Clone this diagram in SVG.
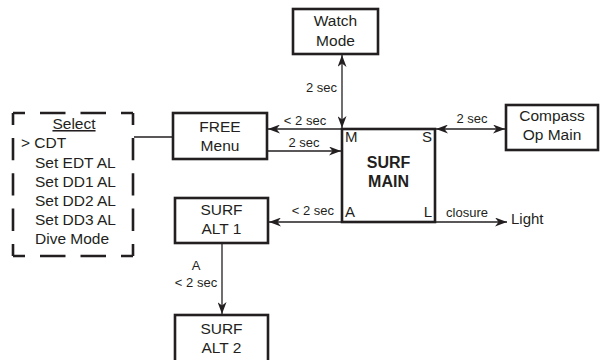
<svg xmlns="http://www.w3.org/2000/svg" width="600" height="360" viewBox="0 0 600 360">
<defs>
<marker id="ah" markerUnits="userSpaceOnUse" viewBox="0 0 12 9" markerWidth="12" markerHeight="9" refX="12" refY="4.5" orient="auto-start-reverse">
<path d="M0,0 L12,4.5 L0,9 L3.5,4.5 z" fill="#231f20"/>
</marker>
</defs>
<style>
.box{fill:#fff;stroke:#231f20;stroke-width:2.6}
.dash{fill:none;stroke:#231f20;stroke-width:2.6}
.ln{fill:none;stroke:#231f20;stroke-width:1.3}
text{font-family:"Liberation Sans",Arial,sans-serif;fill:#231f20}
.t{font-size:15.5px;text-anchor:middle}
.s{font-size:13px}
.b{font-size:16px;font-weight:bold;text-anchor:middle}
.c{font-size:15px}
.m{font-size:15.5px}
</style>
<rect width="600" height="360" fill="#fff"/>
<g id="connectors">
<line class="ln" x1="342" y1="55" x2="342" y2="128" marker-start="url(#ah)" marker-end="url(#ah)"/>
<line class="ln" x1="342" y1="129" x2="268" y2="129" marker-end="url(#ah)"/>
<line class="ln" x1="268" y1="151" x2="341" y2="151" marker-end="url(#ah)"/>
<line class="ln" x1="436" y1="129" x2="505" y2="129" marker-start="url(#ah)" marker-end="url(#ah)"/>
<line class="ln" x1="342" y1="222" x2="269" y2="222" marker-end="url(#ah)"/>
<line class="ln" x1="436" y1="222" x2="507" y2="222" marker-end="url(#ah)"/>
<line class="ln" x1="222" y1="244" x2="222" y2="314" marker-end="url(#ah)"/>
<line class="ln" x1="134" y1="137" x2="173" y2="137"/>
<text class="s" x="337" y="92" text-anchor="end">2 sec</text>
<text class="s" x="305" y="125" text-anchor="middle">&lt; 2 sec</text>
<text class="s" x="304" y="147" text-anchor="middle">2 sec</text>
<text class="s" x="472" y="123" text-anchor="middle">2 sec</text>
<text class="s" x="334" y="215" text-anchor="end">&lt; 2 sec</text>
<text class="s" x="467" y="217" text-anchor="middle">closure</text>
<text class="s" x="196" y="270" text-anchor="middle">A</text>
<text class="s" x="196" y="287" text-anchor="middle">&lt; 2 sec</text>
</g>
<g id="watch">
<rect class="box" x="293" y="9" width="85" height="45"/>
<text class="t" x="335.5" y="26">Watch</text>
<text class="t" x="335.5" y="46">Mode</text>
</g>
<g id="surf-main">
<rect class="box" x="342" y="129" width="93" height="93"/>
<text class="c" x="345" y="142">M</text>
<text class="c" x="432" y="142" text-anchor="end">S</text>
<text class="c" x="345" y="217">A</text>
<text class="c" x="432" y="217" text-anchor="end">L</text>
<text class="b" x="388.5" y="168">SURF</text>
<text class="b" x="388.5" y="187">MAIN</text>
</g>
<g id="free-menu">
<rect class="box" x="173" y="113" width="94" height="46"/>
<text class="t" x="220" y="132">FREE</text>
<text class="t" x="220" y="151">Menu</text>
</g>
<g id="compass">
<rect class="box" x="506" y="105" width="92" height="45"/>
<text class="t" x="552" y="121">Compass</text>
<text class="t" x="552" y="140">Op Main</text>
</g>
<g id="surf-alt1">
<rect class="box" x="175" y="198" width="93" height="45"/>
<text class="t" x="221.5" y="215">SURF</text>
<text class="t" x="221.5" y="234">ALT 1</text>
</g>
<g id="surf-alt2">
<rect class="box" x="175" y="315" width="93" height="50"/>
<text class="t" x="221.5" y="334">SURF</text>
<text class="t" x="221.5" y="353">ALT 2</text>
</g>
<g id="light">
<text class="c" x="511" y="224">Light</text>
</g>
<g id="select">
<line class="dash" x1="13" y1="113" x2="133" y2="113" stroke-dasharray="25.5 15" stroke-dashoffset="13.5"/>
<line class="dash" x1="13" y1="256" x2="133" y2="256" stroke-dasharray="25.5 15" stroke-dashoffset="13.5"/>
<line class="dash" x1="13" y1="113" x2="13" y2="256" stroke-dasharray="22.3 13" stroke-dashoffset="10.3"/>
<line class="dash" x1="133" y1="113" x2="133" y2="256" stroke-dasharray="22.3 13" stroke-dashoffset="10.3"/>
<text class="m" x="74" y="129" text-anchor="middle" text-decoration="underline">Select</text>
<text class="m" x="21" y="148">&gt; CDT</text>
<text class="m" x="35" y="167.5">Set EDT AL</text>
<text class="m" x="35" y="187">Set DD1 AL</text>
<text class="m" x="35" y="206">Set DD2 AL</text>
<text class="m" x="35" y="225">Set DD3 AL</text>
<text class="m" x="35" y="244">Dive Mode</text>
</g>
</svg>
